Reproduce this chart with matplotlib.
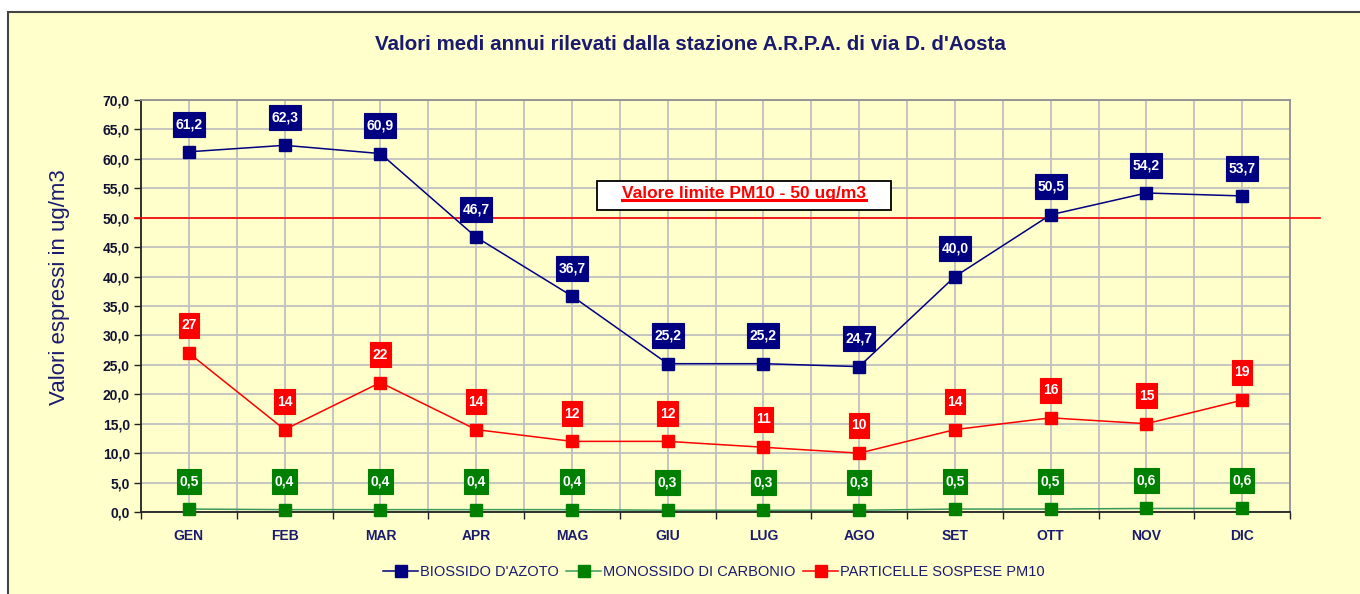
import matplotlib
matplotlib.use("Agg")
import matplotlib.pyplot as plt
from matplotlib.patches import Rectangle
from matplotlib.lines import Line2D
from matplotlib.path import Path
from matplotlib.ticker import FuncFormatter, MultipleLocator
import matplotlib.transforms as mtransforms

plt.rcParams["font.family"] = ["Liberation Sans", "DejaVu Sans"]

C_NAVY = "#000080"
C_GREEN = "#008000"
C_GREEN_LINE = "#3A9A5A"
C_RED = "#FF0000"
C_BG = "#FFFFCC"
C_GRID = "#C0C0C0"
C_TXT = "#1A1A70"

months = ["GEN", "FEB", "MAR", "APR", "MAG", "GIU",
          "LUG", "AGO", "SET", "OTT", "NOV", "DIC"]
no2 = [61.2, 62.3, 60.9, 46.7, 36.7, 25.2, 25.2, 24.7, 40.0, 50.5, 54.2, 53.7]
co = [0.5, 0.4, 0.4, 0.4, 0.4, 0.3, 0.3, 0.3, 0.5, 0.5, 0.6, 0.6]
pm10 = [27, 14, 22, 14, 12, 12, 11, 10, 14, 16, 15, 19]
limit_pm10 = 50

W, H = 1360, 594
fig = plt.figure(figsize=(W / 100, H / 100), dpi=100, facecolor="white")

# outer chart frame
fig.patches.append(Rectangle((8 / W, -0.05), 1.1, 1 - 12 / H + 0.05,
                             transform=fig.transFigure, facecolor=C_BG,
                             edgecolor="#444444", lw=1.5, zorder=-5))

ax = fig.add_axes([141 / W, 1 - 512 / H, (1290 - 141) / W, (512 - 100) / H])
ax.set_facecolor(C_BG)

x = [i + 0.5 for i in range(len(months))]

ax.set_xlim(0, 12)
ax.set_ylim(0, 70)
ax.yaxis.set_major_locator(MultipleLocator(5))
ax.yaxis.set_major_formatter(FuncFormatter(lambda v, p: f"{v:.1f}".replace(".", ",")))
ax.set_xticks(x)
ax.set_xticklabels(months)
ax.set_xticks(range(13), minor=True)
ax.tick_params(axis="x", which="major", length=0, pad=12,
               labelsize=10, labelcolor=C_TXT)
ax.tick_params(axis="x", which="minor", length=5, width=1, color="#222222")
ax.tick_params(axis="y", length=5, width=1, color="#222222",
               labelsize=10, labelcolor="#111133", pad=3)
for lab in ax.get_xticklabels() + ax.get_yticklabels():
    lab.set_fontweight("bold")

# grid every half category
for gx in [i * 0.5 for i in range(1, 24)]:
    ax.axvline(gx, color=C_GRID, lw=1.3, zorder=0)
ax.grid(axis="y", color=C_GRID, lw=1.3, zorder=0)
ax.set_axisbelow(True)

for s in ("top", "right"):
    ax.spines[s].set_color("#909090")
    ax.spines[s].set_linewidth(1.3)
for s in ("left", "bottom"):
    ax.spines[s].set_color("#222222")
    ax.spines[s].set_linewidth(1.3)

ax.plot(x, no2, color=C_NAVY, lw=1.1, marker="s", markersize=8,
        markerfacecolor=C_NAVY, markeredgecolor=C_NAVY, zorder=4,
        label="BIOSSIDO D'AZOTO")
ax.plot(x, co, color=C_GREEN_LINE, lw=1.1, marker="s", markersize=8,
        markerfacecolor=C_GREEN, markeredgecolor=C_GREEN, zorder=4,
        label="MONOSSIDO DI CARBONIO", clip_on=False)
ax.plot(x, pm10, color=C_RED, lw=1.1, marker="s", markersize=8,
        markerfacecolor=C_RED, markeredgecolor=C_RED, zorder=4,
        label="PARTICELLE SOSPESE PM10")


def tall_box(x0, y0, width, height, mutation_size):
    # narrow side padding, fixed tall height (Excel style label box)
    px = 0.18 * mutation_size
    hh = 0.9 * mutation_size
    cy = y0 + height / 2
    x0, x1 = x0 - px, x0 + width + px
    y0, y1 = cy - hh, cy + hh
    return Path([(x0, y0), (x1, y0), (x1, y1), (x0, y1), (x0, y0)], closed=True)


def add_labels(vals, color, fmt):
    for xi, v in zip(x, vals):
        ax.annotate(fmt(v), (xi, v), xytext=(0, 20), textcoords="offset points",
                    ha="center", va="center", fontsize=10, fontweight="bold",
                    color="white", zorder=6,
                    bbox=dict(boxstyle=tall_box, facecolor=color,
                              edgecolor=color, lw=0.8))

add_labels(no2, C_NAVY, lambda v: f"{v:.1f}".replace(".", ","))
add_labels(pm10, C_RED, lambda v: f"{v:d}")
add_labels(co, C_GREEN, lambda v: f"{v:.1f}".replace(".", ","))

# limit line, drawn wider than the plot area
blend = mtransforms.blended_transform_factory(fig.transFigure, ax.transData)
ax.plot([135 / W, 1320 / W], [limit_pm10, limit_pm10], color=C_RED, lw=1.2,
        transform=blend, clip_on=False, zorder=3)

# limit text box
box_x0, box_x1 = (597 - 141) / 1149, (891 - 141) / 1149
box_y0, box_y1 = (512 - 210) / 412, (512 - 181) / 412
ax.add_patch(Rectangle((box_x0, box_y0), box_x1 - box_x0, box_y1 - box_y0,
                       transform=ax.transAxes, facecolor="white",
                       edgecolor="black", lw=1.3, zorder=7))
lim_txt = ax.text((box_x0 + box_x1) / 2, (box_y0 + box_y1) / 2 + 0.006,
                  f"Valore limite PM10 - {limit_pm10} ug/m3",
                  transform=ax.transAxes, ha="center", va="center",
                  fontsize=12.5, fontweight="bold", color=C_RED, zorder=8)

fig.text(60 / W, 1 - 287 / H, "Valori espressi in ug/m3", rotation=90,
         ha="center", va="center", fontsize=16, color=C_TXT)
fig.text(690 / W, 1 - 44 / H,
         "Valori medi annui rilevati dalla stazione A.R.P.A. di via D. d'Aosta",
         ha="center", va="center", fontsize=14.8, fontweight="bold", color=C_TXT)

leg = ax.legend(loc="center", bbox_to_anchor=(714 / W, 1 - 572 / H),
                bbox_transform=fig.transFigure, ncol=3, frameon=False,
                fontsize=10.5, handlelength=2.4, handletextpad=0.15,
                columnspacing=0.5)
for t in leg.get_texts():
    t.set_color(C_TXT)

# underline the limit text
fig.canvas.draw()
bb = lim_txt.get_window_extent()
uy = bb.y0 + 1
fig.add_artist(Line2D([bb.x0 / W, bb.x1 / W], [uy / H, uy / H],
                      transform=fig.transFigure, color=C_RED, lw=2.2, zorder=9))

fig.savefig("out.png", dpi=100, facecolor=fig.get_facecolor())
